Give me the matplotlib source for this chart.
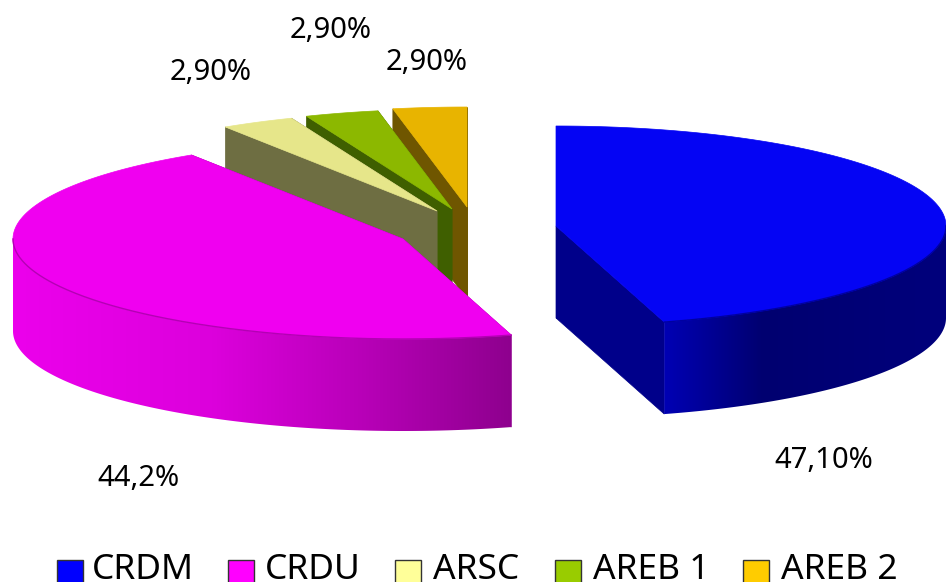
#!/usr/bin/env python3
"""Exploded 3D pie of the five shares, drawn by hand on a pixel-sized axes."""

import matplotlib
matplotlib.use("Agg")
import matplotlib.pyplot as plt
import numpy as np
from matplotlib.colors import to_rgb
from matplotlib.patches import Polygon, Rectangle

NAMES = ["CRDM", "CRDU", "ARSC", "AREB 1", "AREB 2"]
VALUES = [47.1, 44.2, 2.9, 2.9, 2.9]
VALUE_LABELS = ["47,10%", "44,2%", "2,90%", "2,90%", "2,90%"]

LEGEND_COLORS = ["#0000ff", "#ff00ff", "#ffff99", "#99cc00", "#ffcc00"]
TOP_COLORS = ["#0404f4", "#f000f0", "#e6e68a", "#8cb800", "#e8b400"]
WALL_COLORS = ["#00008a", "#900090", "#6e6e42", "#3f5f00", "#6f5600"]

# slice apex on screen, per slice (pulled out of the pie by hand)
APEX = [(556, 226), (403, 239), (437, 211), (452, 209), (467, 207)]
LABEL_POS = [(824, 460), (138, 479), (211, 73), (331, 30), (427, 62)]
LEGEND_BOX_X = [57, 228, 395, 555, 743]
LEGEND_TEXT_X = [92, 265, 433, 593, 781]

RX, RY = 390, 100
DEPTH = 92

# rim shading, from x fraction along the slice's visible rim
RIM_STOPS = {
    0: ([0.0, 0.35, 1.0], ["#0000b4", "#000070", "#00007c"]),
    1: ([0.0, 0.40, 0.70, 1.0], ["#ec00ec", "#dc00dc", "#b800b8", "#8e008e"]),
}
RIM_LINE = {0: "#0000a0", 1: "#b400b4"}


def screen_angle(theta):
    # the tilted view squeezes the right half a little
    return theta - 5.7 * np.sin(np.radians(theta) / 2)


def rim_point(apex, theta):
    rad = np.radians(theta)
    return apex[0] + RX * np.sin(rad), apex[1] - RY * np.cos(rad)


def draw_rim(ax, i, apex, low, high, z):
    pts = np.array([rim_point(apex, t) for t in np.linspace(low, high, 240)])
    x_min, x_max = pts[:, 0].min(), pts[:, 0].max()
    y_min, y_max = pts[:, 1].min(), pts[:, 1].max() + DEPTH

    # horizontal gradient image, clipped to the rim's outline
    stops, cols = RIM_STOPS[i]
    rgb = np.array([to_rgb(c) for c in cols])
    frac = np.linspace(0, 1, 400)
    row = np.stack([np.interp(frac, stops, rgb[:, c]) for c in range(3)], axis=1)
    img = ax.imshow(row[np.newaxis, :, :], extent=(x_min, x_max, y_max, y_min),
                    aspect="auto", interpolation="bilinear", zorder=z)
    outline = np.vstack([pts, (pts + [0, DEPTH])[::-1]])
    clip = Polygon(outline, transform=ax.transData, facecolor="none", edgecolor="none")
    ax.add_patch(clip)
    img.set_clip_path(clip)
    return pts


def draw_slice(ax, i, start, end):
    apex = APEX[i]
    a0, a1 = screen_angle(start), screen_angle(end)
    thetas = np.linspace(a0, a1, 200)
    arc = [rim_point(apex, t) for t in thetas]
    z = 2 + (4 - i) * 0.1 if i != 1 else 3

    # radial walls first, the top face paints over whatever should be hidden
    for px, py in (arc[0], arc[-1]):
        ax.add_patch(Polygon(
            [apex, (px, py), (px, py + DEPTH), (apex[0], apex[1] + DEPTH)],
            facecolor=WALL_COLORS[i], edgecolor=WALL_COLORS[i], linewidth=0.5,
            zorder=z,
        ))

    low, high = max(a0, 90), min(a1, 270)
    pts = None
    if high > low and i in RIM_STOPS:
        pts = draw_rim(ax, i, apex, low, high, z + 0.01)

    ax.add_patch(Polygon(
        [apex] + arc, facecolor=TOP_COLORS[i], edgecolor=TOP_COLORS[i], linewidth=0.5,
        zorder=z + 0.02,
    ))
    if pts is not None:
        ax.plot(pts[:, 0], pts[:, 1], color=RIM_LINE[i], linewidth=1.0, zorder=z + 0.03)


def main():
    plt.rcParams["font.family"] = ["Noto Sans", "DejaVu Sans"]

    fig = plt.figure(figsize=(9.46, 5.82), dpi=100)
    ax = fig.add_axes([0, 0, 1, 1])

    total = sum(VALUES)
    edges = np.cumsum([0] + VALUES) / total * 360

    # back to front: the small slices sit behind the big magenta one
    for i in [4, 3, 2, 0, 1]:
        draw_slice(ax, i, edges[i], edges[i + 1])

    for text, (x, y) in zip(VALUE_LABELS, LABEL_POS):
        ax.text(x, y, text, ha="center", va="center", fontsize=21, color="black", zorder=5)

    for i, name in enumerate(NAMES):
        ax.add_patch(Rectangle(
            (LEGEND_BOX_X[i], 560), 26, 24, facecolor=LEGEND_COLORS[i],
            edgecolor="#333333", linewidth=1, zorder=5,
        ))
        ax.text(LEGEND_TEXT_X[i], 579, name, ha="left", va="baseline",
                fontsize=25.5, color="black", zorder=5)

    ax.set_xlim(0, 946)
    ax.set_ylim(582, 0)
    ax.axis("off")

    fig.savefig("out.png", dpi=100, facecolor="white")


if __name__ == "__main__":
    main()
